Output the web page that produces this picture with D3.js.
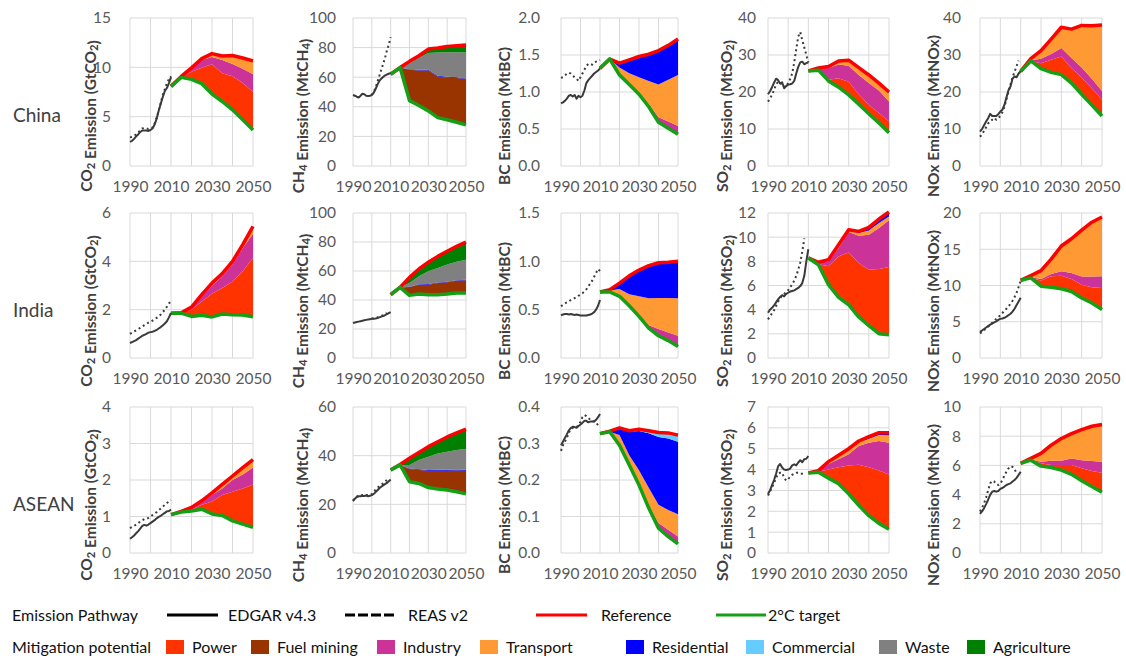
<!DOCTYPE html>
<html>
<head>
<meta charset="utf-8">
<title>Emission pathways and mitigation potential</title>
<script src="https://cdn.jsdelivr.net/npm/d3@7"></script>
<style>
  body { margin: 0; background: #fff; }
  text { font-family: Lato, "Open Sans", sans-serif; }
</style>
</head>
<body>
<script>
// ---- data ----
var histYears = [1990,1991,1992,1993,1994,1995,1996,1997,1998,1999,2000,2001,2002,2003,2004,2005,2006,2007,2008,2009,2010];
var projYears = [2010,2015,2020,2025,2030,2035,2040,2045,2050];
var gridYears = [1990,2000,2010,2020,2030,2040,2050];
var yearLabels = [1990,2010,2030,2050];
var regions = ["China","India","ASEAN"];
var yTitles = ["CO_2 Emission (GtCO_2)","CH_4 Emission (MtCH_4)","BC Emission (MtBC)","SO_2 Emission (MtSO_2)","NOx Emission (MtNOx)"];
var sectors = ["Power","Fuel mining","Industry","Transport","Residential","Commercial","Waste","Agriculture"];
var sectorColors = ["#FF3300","#993300","#CC3399","#FF9933","#0000FF","#66CCFF","#808080","#008000"];

var chinaCO2 = {ticks: [0,5,10,15],
  edgar: [2.45,2.55,2.75,3.0,3.2,3.45,3.6,3.6,3.6,3.55,3.65,3.8,4.2,4.8,5.6,6.3,7.0,7.6,7.9,8.4,9.0],
  reas: [2.9,2.95,3.05,3.2,3.4,3.6,3.8,3.85,3.8,3.75,3.8,3.9,4.3,4.9,5.6,6.4,7.2,7.8,8.4,8.8,9.1],
  target: [8.07,8.98,8.78,8.34,7.29,6.54,5.69,4.68,3.66],
  "Power": [0,0.05,0.77,1.61,3.01,2.86,3.41,3.72,3.84],
  "Industry": [0,0.03,0.30,0.80,0.75,1.35,1.25,1.45,1.80],
  "Transport": [0,0.02,0.10,0.13,0.34,0.40,0.85,1.10,1.35]};
var chinaCH4 = {ticks: [0,20,40,60,80,100],
  edgar: [48,47.5,46.8,46.3,47.5,48.8,48.5,47.5,47.3,47.5,48,49.5,52,55,57.5,59,60.2,61.2,61.8,62.3,62.8],
  reas: [null,null,null,null,null,null,null,null,null,null,48,50,53,57,61,65,69,73,78,82,87],
  target: [62,66.5,44.2,40.9,37.2,32.7,31.2,29.6,27.8],
  "Fuel mining": [0,0,20.8,23.7,27.4,27.8,28.6,29.8,30.9],
  "Residential": [0,0,0.3,0.4,0.5,0.5,0.5,0.5,0.5],
  "Waste": [0,0,4.2,7.9,11.2,15.7,16.5,16.9,17.5],
  "Agriculture": [0,0,1.2,1.6,2.7,3.0,4.0,4.5,5.0]};
var chinaBC = {ticks: [0,0.5,1,1.5,2],
  edgar: [0.845,0.86,0.88,0.91,0.95,0.96,0.94,0.96,0.91,0.95,0.93,0.95,1.02,1.12,1.16,1.19,1.22,1.25,1.27,1.29,1.32],
  reas: [1.19,1.2,1.22,1.25,1.26,1.25,1.22,1.2,1.18,1.15,1.2,1.25,1.3,1.35,1.38,1.38,1.37,1.4,1.41,1.42,1.43],
  target: [1.32,1.445,1.23,1.10,0.97,0.80,0.59,0.51,0.43],
  "Industry": [0,0,0.01,0.01,0.02,0.04,0.07,0.09,0.11],
  "Transport": [0,0,0.09,0.145,0.21,0.31,0.44,0.565,0.69],
  "Residential": [0,0,0.06,0.18,0.28,0.355,0.45,0.45,0.465],
  "Commercial": [0,0,0,0,0,0.005,0.01,0.015,0.02]};
var chinaSO2 = {ticks: [0,10,20,30,40],
  edgar: [19.4,20.2,21.3,22.5,23.6,23.2,22.3,22.6,21.0,21.6,22.0,22.1,22.3,23.0,25.0,26.8,28.0,28.2,27.5,27.8,28.0],
  reas: [17.4,18.2,19.3,20.5,22.0,22.8,22.5,22.0,21.5,21.3,22.5,23.5,25.0,28.0,31.5,35.0,36.2,34.0,32.0,30.0,28.0],
  target: [25.7,25.9,23.0,21.3,19.2,16.7,14.1,11.6,9.0],
  "Power": [0,0,0.3,2.4,3.6,2.7,2.4,2.7,3.0],
  "Industry": [0,0.5,3.2,3.7,4.3,5.2,5.9,6.1,5.4],
  "Transport": [0,0.1,0.4,0.9,1.3,1.7,1.9,1.7,2.3],
  "Residential": [0,0,0,0.1,0.2,0.3,0.3,0.3,0.3]};
var chinaNOx = {ticks: [0,10,20,30,40],
  edgar: [9.3,10,11,12,12.9,14.1,13.5,13.5,13.5,14,14.7,15.2,16.5,18.5,20.5,21.5,23.6,24.2,24,25,25.6],
  reas: [7.9,8.5,9.5,10.5,11.5,12,12.5,13,12.5,13,13.5,14.5,16,18,20,22,24,25.5,27,28.5,null],
  target: [25.6,28.4,26.3,25.3,24.7,22.4,19.4,16.5,13.5],
  "Power": [0,0,1.5,3.4,4.9,4.1,4.5,4.5,4.4],
  "Industry": [0,0.2,1.2,1.6,2.3,2.7,2.7,2.6,2.4],
  "Transport": [0,0.4,2.2,4.0,5.6,7.8,11.4,14.3,17.8]};

var indiaCO2 = {ticks: [0,2,4,6],
  edgar: [0.62,0.66,0.70,0.74,0.80,0.86,0.92,0.96,1.00,1.05,1.07,1.09,1.12,1.16,1.22,1.28,1.35,1.43,1.52,1.68,1.86],
  reas: [1.0,1.05,1.1,1.15,1.2,1.25,1.3,1.36,1.41,1.46,1.5,1.55,1.6,1.66,1.72,1.8,1.9,2.0,2.12,2.25,2.4],
  target: [1.85,1.86,1.72,1.77,1.70,1.82,1.79,1.78,1.71],
  "Power": [0,0.01,0.28,0.57,0.96,1.08,1.38,1.81,2.43],
  "Industry": [0,0,0.08,0.21,0.33,0.48,0.72,0.96,0.99],
  "Transport": [0,0,0.03,0.07,0.11,0.11,0.11,0.14,0.32]};
var indiaCH4 = {ticks: [0,20,40,60,80,100],
  edgar: [24.2,24.5,24.8,25.1,25.4,25.7,26.0,26.3,26.6,26.8,27.0,27.1,27.3,27.6,28.0,28.5,29.0,29.5,30.2,31.0,31.7],
  reas: [null,null,null,null,null,null,null,null,null,null,27.2,27.4,27.7,28.0,28.5,29.0,29.6,30.3,31.0,null,null],
  target: [43.7,48.7,43.2,44.1,43.7,43.7,44.1,44.8,44.8],
  "Fuel mining": [0,0,5.8,6.5,6.9,8.0,8.1,8.5,8.8],
  "Residential": [0,0,0.2,0.3,0.4,0.4,0.4,0.4,0.4],
  "Waste": [0,0,2.5,5.4,8.8,10.0,11.8,12.7,13.8],
  "Agriculture": [0,0,3.9,5.1,6.2,8.0,9.2,10.6,12.2]};
var indiaBC = {ticks: [0,0.5,1,1.5],
  edgar: [0.44,0.45,0.455,0.455,0.45,0.455,0.45,0.445,0.45,0.445,0.44,0.44,0.44,0.44,0.445,0.45,0.46,0.475,0.50,0.54,0.60],
  reas: [0.535,0.55,0.565,0.575,0.585,0.60,0.61,0.62,0.63,0.645,0.655,0.67,0.69,0.71,0.74,0.77,0.80,0.84,0.88,0.92,0.90],
  target: [0.683,0.683,0.638,0.54,0.43,0.31,0.23,0.18,0.12],
  "Industry": [0,0,0.005,0.01,0.02,0.03,0.07,0.085,0.11],
  "Transport": [0,0.015,0.071,0.11,0.188,0.277,0.32,0.355,0.387],
  "Residential": [0,0.009,0.061,0.185,0.267,0.33,0.355,0.36,0.37],
  "Commercial": [0,0,0,0.005,0.005,0.008,0.01,0.01,0.013]};
var indiaSO2 = {ticks: [0,2,4,6,8,10,12],
  edgar: [3.75,4.0,4.15,4.35,4.6,4.85,5.05,5.2,5.1,5.3,5.4,5.5,5.55,5.6,5.7,5.8,5.95,6.2,6.8,8.0,9.0],
  reas: [3.2,3.45,3.7,3.95,4.3,4.65,4.95,5.15,5.3,5.45,5.6,5.85,6.1,6.4,6.8,7.3,7.9,8.8,9.9,null,null],
  target: [8.28,7.72,6.07,5.02,4.41,3.39,2.68,2.01,1.93],
  "Power": [0,0.03,1.52,3.39,4.33,4.47,4.63,5.36,5.6],
  "Industry": [0,0.15,0.41,0.69,1.69,2.26,2.9,3.39,3.86],
  "Transport": [0,0.02,0.1,0.2,0.12,0.22,0.34,0.41,0.33],
  "Residential": [0,0,0.04,0.08,0.07,0.14,0.26,0.33,0.36]};
var indiaNOx = {ticks: [0,5,10,15,20],
  edgar: [3.6,3.8,4.0,4.2,4.4,4.6,4.75,4.9,5.05,5.25,5.4,5.45,5.55,5.7,5.9,6.1,6.4,6.8,7.3,7.8,8.3],
  reas: [3.4,3.6,3.85,4.1,4.35,4.6,4.85,5.1,5.4,5.65,5.9,6.2,6.5,6.8,7.1,7.5,7.9,8.4,9.0,9.8,10.6],
  target: [10.7,11.05,9.9,9.77,9.55,9.18,8.27,7.59,6.68],
  "Power": [0,0,0.78,1.5,1.81,1.72,1.82,2.18,2.96],
  "Industry": [0,0.1,0.22,0.32,0.59,0.83,1.14,1.46,1.63],
  "Transport": [0,0.21,1.15,2.05,3.5,4.72,6.36,7.4,8.08],
  "Residential": [0,0,0,0,0,0,0.05,0.1,0.1]};

var aseanCO2 = {ticks: [0,1,2,3,4],
  edgar: [0.39,0.43,0.48,0.54,0.6,0.67,0.74,0.77,0.75,0.78,0.82,0.86,0.9,0.95,0.99,1.02,1.06,1.1,1.14,1.15,1.19],
  reas: [0.68,0.71,0.74,0.78,0.82,0.86,0.9,0.93,0.93,0.96,1.0,1.04,1.08,1.12,1.17,1.22,1.27,1.32,1.37,1.41,1.45],
  target: [1.05,1.12,1.15,1.2,1.07,1.03,0.88,0.79,0.70],
  "Power": [0,0,0.03,0.12,0.34,0.56,0.80,0.98,1.18],
  "Industry": [0,0.01,0.04,0.07,0.18,0.18,0.32,0.38,0.46],
  "Transport": [0,0.01,0.03,0.04,0.06,0.11,0.11,0.19,0.22]};
var aseanCH4 = {ticks: [0,20,40,60],
  edgar: [21.3,22.3,23.0,23.3,23.3,23.5,23.4,23.6,23.3,23.5,23.8,24.3,25.0,25.8,26.6,27.2,27.8,28.3,28.8,29.5,30.2],
  reas: [21.5,22.5,23.2,23.5,23.6,23.8,23.8,23.8,23.7,23.8,24.2,25.0,26.0,26.8,27.5,28.0,28.6,29.3,30.0,null,null],
  target: [34.1,36.2,29.3,28.6,26.9,26.3,25.9,25.2,24.3],
  "Fuel mining": [0,0,5.2,5.5,6.9,7.5,7.9,8.7,9.5],
  "Residential": [0,0,0.2,0.3,0.3,0.4,0.4,0.4,0.4],
  "Waste": [0,0,1.5,3.8,5.5,6.7,7.4,8.0,8.5],
  "Agriculture": [0,0.2,2.7,3.1,4.1,4.8,6.1,7.1,8.2]};
var aseanBC = {ticks: [0,0.1,0.2,0.3,0.4],
  edgar: [0.295,0.305,0.315,0.325,0.336,0.342,0.346,0.345,0.343,0.348,0.352,0.357,0.362,0.362,0.358,0.36,0.36,0.36,0.365,0.372,0.381],
  reas: [0.28,0.295,0.305,0.315,0.33,0.338,0.343,0.345,0.345,0.35,0.36,0.372,0.378,0.375,0.37,0.365,0.362,0.36,0.358,0.35,0.345],
  target: [0.327,0.332,0.295,0.241,0.186,0.123,0.068,0.045,0.025],
  "Industry": [0,0,0.002,0.003,0.004,0.008,0.014,0.019,0.02],
  "Transport": [0,0,0.026,0.024,0.037,0.048,0.05,0.054,0.061],
  "Residential": [0,0.002,0.018,0.064,0.107,0.149,0.186,0.196,0.199],
  "Commercial": [0,0,0.002,0.003,0.005,0.007,0.012,0.015,0.018]};
var aseanSO2 = {ticks: [0,1,2,3,4,5,6,7],
  edgar: [2.84,3.0,3.25,3.5,3.8,4.15,4.27,4.1,4.0,3.98,4.0,4.05,4.2,4.25,4.2,4.34,4.45,4.35,4.5,4.52,4.65],
  reas: [2.76,2.95,3.15,3.35,3.6,3.8,3.85,3.85,3.6,3.47,3.55,3.65,3.75,3.8,3.85,3.85,3.8,3.8,3.79,null,null],
  target: [3.84,3.87,3.59,3.32,2.84,2.29,1.79,1.42,1.14],
  "Power": [0,0.03,0.41,0.79,1.35,1.94,2.32,2.53,2.62],
  "Industry": [0,0.05,0.27,0.39,0.55,0.9,1.18,1.42,1.53],
  "Transport": [0,0,0.1,0.17,0.16,0.17,0.19,0.29,0.35],
  "Residential": [0,0,0.01,0.02,0.1,0.07,0.1,0.11,0.13]};
var aseanNOx = {ticks: [0,2,4,6,8,10],
  edgar: [2.68,2.85,3.07,3.35,3.65,3.98,4.2,4.25,4.2,4.25,4.39,4.45,4.55,4.66,4.72,4.77,4.9,5.0,5.15,5.35,5.57],
  reas: [2.84,3.1,3.4,3.8,4.3,4.77,4.95,4.9,4.7,4.66,4.75,5.0,5.3,5.57,5.8,5.95,5.9,5.75,5.45,null,null],
  target: [6.14,6.36,5.95,5.86,5.68,5.39,4.95,4.55,4.16],
  "Power": [0,0,0.19,0.16,0.34,0.63,0.85,1.06,1.34],
  "Industry": [0,0.02,0.11,0.3,0.3,0.46,0.56,0.69,0.75],
  "Transport": [0,0.1,0.57,1.07,1.5,1.68,2.05,2.34,2.5],
  "Residential": [0,0,0,0,0.02,0.02,0.04,0.04,0.05]};

var panels = [
  [chinaCO2, chinaCH4, chinaBC, chinaSO2, chinaNOx],
  [indiaCO2, indiaCH4, indiaBC, indiaSO2, indiaNOx],
  [aseanCO2, aseanCH4, aseanBC, aseanSO2, aseanNOx]
];

// ---- layout ----
var width = 1126, height = 658;
var colX = [[130,253],[353,466],[561,678],[768,889],[980,1102]];
var rowY = [[18,166],[213,358],[407,553]];
var labelPad = [19,17,21,12,19];
var titleX = [88,300,506,724,935];
var refColor = "#FF0000", targetColor = "#14A014", histColor = "#3a3a3a";

var svg = d3.select("body").append("svg")
    .attr("width", width)
    .attr("height", height);

// text with _2 style subscripts
function subText(sel, str) {
    str.split(/(_\d)/).forEach(function(part) {
        if (!part) return;
        if (part[0] == "_") {
            sel.append("tspan").attr("dy", 3.5).attr("font-size", "0.72em").text(part.slice(1));
            sel.append("tspan").attr("dy", -3.5).text("");
        } else {
            sel.append("tspan").text(part);
        }
    });
}

function drawPanel(p, ri, ci) {
    var x0 = colX[ci][0], x1 = colX[ci][1];
    var y0 = rowY[ri][0], y1 = rowY[ri][1];
    var x = d3.scaleLinear().domain([1990, 2050]).range([x0, x1]);
    var y = d3.scaleLinear().domain([0, p.ticks[p.ticks.length - 1]]).range([y1, y0]);
    var g = svg.append("g");

    // gridlines
    g.selectAll(".hg").data(p.ticks).join("line").attr("class", "hg")
        .attr("x1", x0).attr("x2", x1)
        .attr("y1", function(d) { return y(d); }).attr("y2", function(d) { return y(d); })
        .attr("stroke", "#d9d9d9").attr("stroke-width", 1);
    g.selectAll(".vg").data(gridYears).join("line").attr("class", "vg")
        .attr("x1", function(d) { return x(d); }).attr("x2", function(d) { return x(d); })
        .attr("y1", y0).attr("y2", y1)
        .attr("stroke", "#d9d9d9").attr("stroke-width", 1);

    // mitigation wedges stacked on top of the 2C pathway
    var rows = projYears.map(function(yr, i) {
        var o = {year: yr, target: p.target[i]};
        sectors.forEach(function(s) { o[s] = p[s] ? p[s][i] : 0; });
        return o;
    });
    var series = d3.stack().keys(sectors)(rows);
    var area = d3.area()
        .x(function(d) { return x(d.data.year); })
        .y0(function(d) { return y(d.data.target + d[0]); })
        .y1(function(d) { return y(d.data.target + d[1]); });
    g.selectAll(".band").data(series).join("path").attr("class", "band")
        .attr("d", area)
        .attr("fill", function(d, i) { return sectorColors[i]; });

    // reference = 2C + all potentials
    var topSeries = series[series.length - 1];
    g.append("path").datum(topSeries)
        .attr("d", d3.line().x(function(d) { return x(d.data.year); })
                            .y(function(d) { return y(d.data.target + d[1]); }))
        .attr("fill", "none").attr("stroke", refColor).attr("stroke-width", 3.5)
        .attr("stroke-linejoin", "round");
    g.append("path").datum(rows)
        .attr("d", d3.line().x(function(d) { return x(d.year); })
                            .y(function(d) { return y(d.target); }))
        .attr("fill", "none").attr("stroke", targetColor).attr("stroke-width", 3.5)
        .attr("stroke-linejoin", "round");

    // historical inventories
    var hline = d3.line()
        .defined(function(d) { return d != null; })
        .x(function(d, i) { return x(histYears[i]); })
        .y(function(d) { return y(d); });
    g.append("path").datum(p.reas).attr("d", hline)
        .attr("fill", "none").attr("stroke", histColor).attr("stroke-width", 2)
        .attr("stroke-dasharray", "2,3");
    g.append("path").datum(p.edgar).attr("d", hline)
        .attr("fill", "none").attr("stroke", histColor).attr("stroke-width", 2)
        .attr("stroke-linejoin", "round");

    // axes
    var fmt = ci == 2 ? d3.format(".1f") : d3.format("d");
    var ya = g.append("g").attr("transform", "translate(" + x0 + ",0)")
        .call(d3.axisLeft(y).tickValues(p.ticks).tickFormat(fmt).tickSize(0).tickPadding(labelPad[ci]));
    var xa = g.append("g").attr("transform", "translate(0," + y1 + ")")
        .call(d3.axisBottom(x).tickValues(yearLabels).tickFormat(d3.format("d")).tickSize(0).tickPadding(15));
    [ya, xa].forEach(function(a) {
        a.select(".domain").remove();
        a.selectAll("text").attr("font-family", "Lato, 'Open Sans', sans-serif")
            .attr("font-size", 15.5).attr("fill", "#595959");
    });

    // y title
    var t = g.append("text")
        .attr("transform", "translate(" + titleX[ci] + "," + (y0 + 98) + ") rotate(-90)")
        .attr("text-anchor", "middle").attr("dominant-baseline", "middle")
        .attr("font-size", 15.5).attr("font-weight", "bold").attr("fill", "#404040");
    subText(t, yTitles[ci]);
}

panels.forEach(function(row, ri) {
    row.forEach(function(p, ci) { drawPanel(p, ri, ci); });
    svg.append("text")
        .attr("x", 13).attr("y", rowY[ri][0] + 99)
        .attr("dominant-baseline", "middle")
        .attr("font-size", 19).attr("fill", "#404040")
        .text(regions[ri]);
});

// ---- legend ----
var leg = svg.append("g").attr("font-size", 16).attr("fill", "#111");
leg.append("text").attr("x", 12).attr("y", 621).text("Emission Pathway");
var pathways = [
    {name: "EDGAR v4.3", x1: 167, x2: 218, tx: 228, color: "#000", dash: null},
    {name: "REAS v2", x1: 345, x2: 397, tx: 408, color: "#000", dash: "10,3"},
    {name: "Reference", x1: 536, x2: 587, tx: 601, color: refColor, dash: null},
    {name: "2°C target", x1: 716, x2: 766, tx: 768, color: targetColor, dash: null}
];
pathways.forEach(function(d) {
    leg.append("line").attr("x1", d.x1).attr("x2", d.x2).attr("y1", 615).attr("y2", 615)
        .attr("stroke", d.color).attr("stroke-width", 3)
        .attr("stroke-dasharray", d.dash);
    leg.append("text").attr("x", d.tx).attr("y", 621).text(d.name);
});
leg.append("text").attr("x", 12).attr("y", 653).text("Mitigation potential");
var swatchX = [166,251,377,480,626,746,879,967];
sectors.forEach(function(s, i) {
    leg.append("rect").attr("x", swatchX[i]).attr("y", 640).attr("width", 18).attr("height", 14)
        .attr("fill", sectorColors[i]);
    leg.append("text").attr("x", swatchX[i] + 26).attr("y", 653).text(s);
});
</script>
</body>
</html>
